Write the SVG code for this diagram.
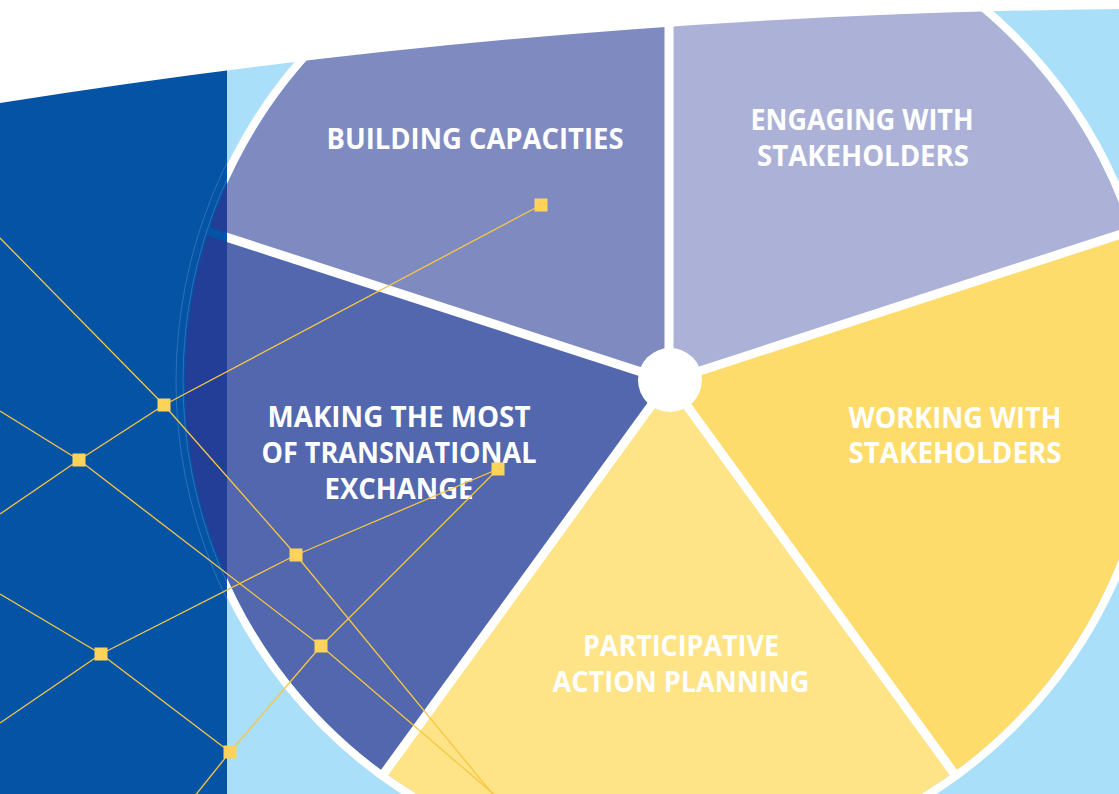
<svg xmlns="http://www.w3.org/2000/svg" width="1119" height="794" viewBox="0 0 1119 794">
  <defs>
    <style>
      .lbl { font-family: "Open Sans", "Liberation Sans", sans-serif; font-weight: 700; font-size: 28px; fill: #ffffff; text-anchor: middle; }
      .sep { stroke: #ffffff; stroke-width: 9; fill: none; }
      .net { stroke: #F6C744; stroke-width: 1.3; fill: none; stroke-linejoin: round; }
      .sq { fill: #FDD35C; }
    </style>
    <clipPath id="bandClip">
      <rect x="0" y="0" width="227" height="794"/>
    </clipPath>
  </defs>

  <!-- background -->
  <rect x="0" y="0" width="1119" height="794" fill="#A9DFF8"/>

  <!-- wedges -->
  <g id="node-building-capacities">
    <path d="M669 381 L208.7 231.4 A484 484 0 0 1 669 -103 Z" fill="#7F8AC1"/>
    <text class="lbl" x="475" y="149" textLength="297" lengthAdjust="spacingAndGlyphs">BUILDING CAPACITIES</text>
  </g>
  <g id="node-engaging">
    <path d="M669 381 L669 -103 A484 484 0 0 1 1129.3 231.4 Z" fill="#ACB1D7"/>
    <text class="lbl" x="862" y="130" textLength="223" lengthAdjust="spacingAndGlyphs">ENGAGING WITH</text>
    <text class="lbl" x="863" y="166" textLength="212" lengthAdjust="spacingAndGlyphs">STAKEHOLDERS</text>
  </g>
  <g id="node-working">
    <path d="M669 381 L1129.3 231.4 A484 484 0 0 1 953.5 772.6 Z" fill="#FEDC6B"/>
  </g>
  <g id="node-participative">
    <path d="M669 381 L953.5 772.6 A484 484 0 0 1 384.5 772.6 Z" fill="#FEE387"/>
  </g>
  <g id="node-making">
    <path d="M669 381 L384.5 772.6 A484 484 0 0 1 208.7 231.4 Z" fill="#5267AD"/>
  </g>

  <!-- separators and outline -->
  <g id="pie-frame">
    <line class="sep" x1="669" y1="381" x2="669" y2="-107"/>
    <line class="sep" x1="669" y1="381" x2="1133" y2="230.2"/>
    <line class="sep" x1="669" y1="381" x2="955.8" y2="775.8"/>
    <line class="sep" x1="669" y1="381" x2="382.2" y2="775.8"/>
    <line class="sep" x1="669" y1="381" x2="205" y2="230.2"/>
    <circle cx="669" cy="381" r="488" fill="none" stroke="#ffffff" stroke-width="8"/>
    <circle id="hub" cx="670" cy="380" r="32" fill="#ffffff"/>
  </g>

  <!-- dark band -->
  <g id="band">
    <rect x="0" y="0" width="227" height="794" fill="#0453A4"/>
    <g clip-path="url(#bandClip)">
      <circle cx="669" cy="381" r="484" fill="#233E96"/>
      <line x1="669" y1="381" x2="198" y2="228" stroke="#0453A4" stroke-width="9"/>
      <circle cx="669" cy="381" r="486" fill="none" stroke="#4A88CC" stroke-width="0.8" opacity="0.7"/>
      <circle cx="669" cy="381" r="493" fill="none" stroke="#4A88CC" stroke-width="0.8" opacity="0.7"/>
    </g>
  </g>

  <!-- labels over remaining wedges -->
  <g id="labels">
    <text class="lbl" x="399" y="427" textLength="263" lengthAdjust="spacingAndGlyphs">MAKING THE MOST</text>
    <text class="lbl" x="399" y="463" textLength="275" lengthAdjust="spacingAndGlyphs">OF TRANSNATIONAL</text>
    <text class="lbl" x="399" y="499" textLength="149" lengthAdjust="spacingAndGlyphs">EXCHANGE</text>
    <text class="lbl" x="955" y="428" textLength="213" lengthAdjust="spacingAndGlyphs">WORKING WITH</text>
    <text class="lbl" x="955" y="463" textLength="213" lengthAdjust="spacingAndGlyphs">STAKEHOLDERS</text>
    <text class="lbl" x="681" y="656" textLength="196" lengthAdjust="spacingAndGlyphs">PARTICIPATIVE</text>
    <text class="lbl" x="681" y="692" textLength="257" lengthAdjust="spacingAndGlyphs">ACTION PLANNING</text>
  </g>

  <!-- white top curve -->
  <path id="top-mask" d="M0 0 H1119 V9 Q560 14 0 103 Z" fill="#ffffff"/>

  <!-- network connectors -->
  <g id="connectors">
    <polyline class="net" points="0,238 164,405 296,555 500,803"/>
    <polyline class="net" points="0,411 79,460 321,646 503,802"/>
    <polyline class="net" points="0,514 79,460 164,405 541,205"/>
    <polyline class="net" points="0,594 101,654 230,752"/>
    <polyline class="net" points="0,723 101,654 296,555 498,469"/>
    <polyline class="net" points="190,802 230,752 321,646 498,469"/>
  </g>

  <!-- network nodes -->
  <g id="network-nodes">
    <rect id="n-a" class="sq" x="534.5" y="198.5" width="13" height="13"/>
    <rect id="n-b" class="sq" x="157.5" y="398.5" width="13" height="13"/>
    <rect id="n-c" class="sq" x="72.5" y="453.5" width="13" height="13"/>
    <rect id="n-d" class="sq" x="491.5" y="462.5" width="13" height="13"/>
    <rect id="n-e" class="sq" x="289.5" y="548.5" width="13" height="13"/>
    <rect id="n-f" class="sq" x="314.5" y="639.5" width="13" height="13"/>
    <rect id="n-g" class="sq" x="94.5" y="647.5" width="13" height="13"/>
    <rect id="n-h" class="sq" x="223.5" y="745.5" width="13" height="13"/>
  </g>
</svg>
